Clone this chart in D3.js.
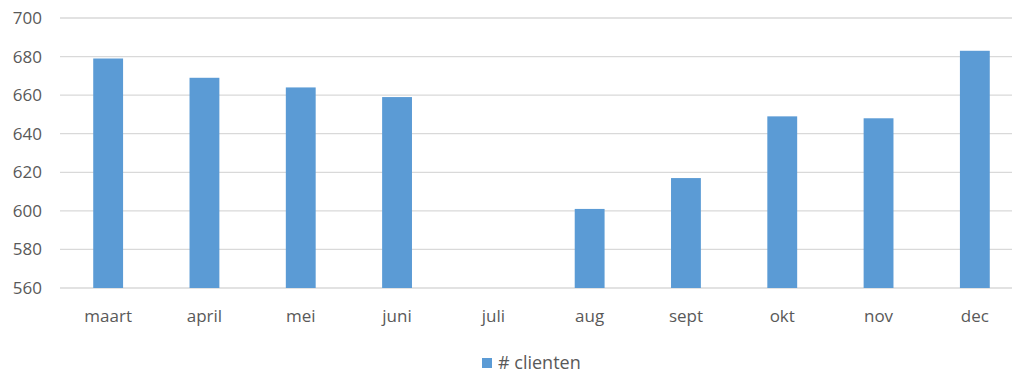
<!DOCTYPE html>
<html>
<head>
<meta charset="utf-8">
<script src="https://cdn.jsdelivr.net/npm/d3@7"></script>
<style>
  body { margin: 0; background: #fff; }
  svg { display: block; font-family: "Open Sans", "Liberation Sans", sans-serif; }
</style>
</head>
<body>
<div id="chart"></div>
<script>
// Chart data
const months = ['maart', 'april', 'mei', 'juni', 'juli', 'aug', 'sept', 'okt', 'nov', 'dec'];
const clients = [679, 669, 664, 659, null, 601, 617, 649, 648, 683];
const yTicks = [560, 580, 600, 620, 640, 660, 680, 700];
const seriesName = '# clienten';

const width = 1012, height = 373;
const margin = { top: 18, right: -11, bottom: 85, left: 60 };

const svg = d3.select('#chart').append('svg')
  .attr('width', width)
  .attr('height', height);

const x = d3.scaleBand()
  .domain(months)
  .range([margin.left, width - margin.right])
  .paddingInner(0.69)
  .paddingOuter(0.345);

const y = d3.scaleLinear()
  .domain([560, 700])
  .range([height - margin.bottom, margin.top]);

// Gridlines
svg.append('g')
  .selectAll('line')
  .data(yTicks)
  .join('line')
  .attr('x1', margin.left)
  .attr('x2', width)
  .attr('y1', d => y(d))
  .attr('y2', d => y(d))
  .attr('stroke', '#d9d9d9')
  .attr('stroke-width', 1.3);

// Y axis labels
const yAxis = svg.append('g')
  .attr('transform', `translate(${margin.left - 18},0)`)
  .call(d3.axisLeft(y).tickValues(yTicks).tickSize(0).tickPadding(0));
yAxis.select('.domain').remove();
yAxis.selectAll('text')
  .attr('font-size', 17)
  .attr('font-family', '"Open Sans", "Liberation Sans", sans-serif')
  .attr('fill', '#595959');

// Bars
svg.append('g')
  .selectAll('rect')
  .data(months.map((m, i) => ({ month: m, value: clients[i] })).filter(d => d.value != null))
  .join('rect')
  .attr('x', d => x(d.month))
  .attr('width', x.bandwidth())
  .attr('y', d => y(d.value))
  .attr('height', d => y(560) - y(d.value))
  .attr('fill', '#5b9bd5');

// X axis labels
const xAxis = svg.append('g')
  .attr('transform', `translate(0,${y(560) + 22})`)
  .call(d3.axisBottom(x).tickSize(0).tickPadding(0));
xAxis.select('.domain').remove();
xAxis.selectAll('text')
  .attr('font-size', 17)
  .attr('font-family', '"Open Sans", "Liberation Sans", sans-serif')
  .attr('fill', '#595959');

// Legend
const legend = svg.append('g').attr('transform', 'translate(482,358)');
legend.append('rect')
  .attr('width', 10)
  .attr('height', 10)
  .attr('fill', '#5b9bd5');
legend.append('text')
  .attr('x', 16)
  .attr('y', 10.5)
  .attr('font-size', 18)
  .attr('fill', '#595959')
  .text(seriesName);
</script>
</body>
</html>
